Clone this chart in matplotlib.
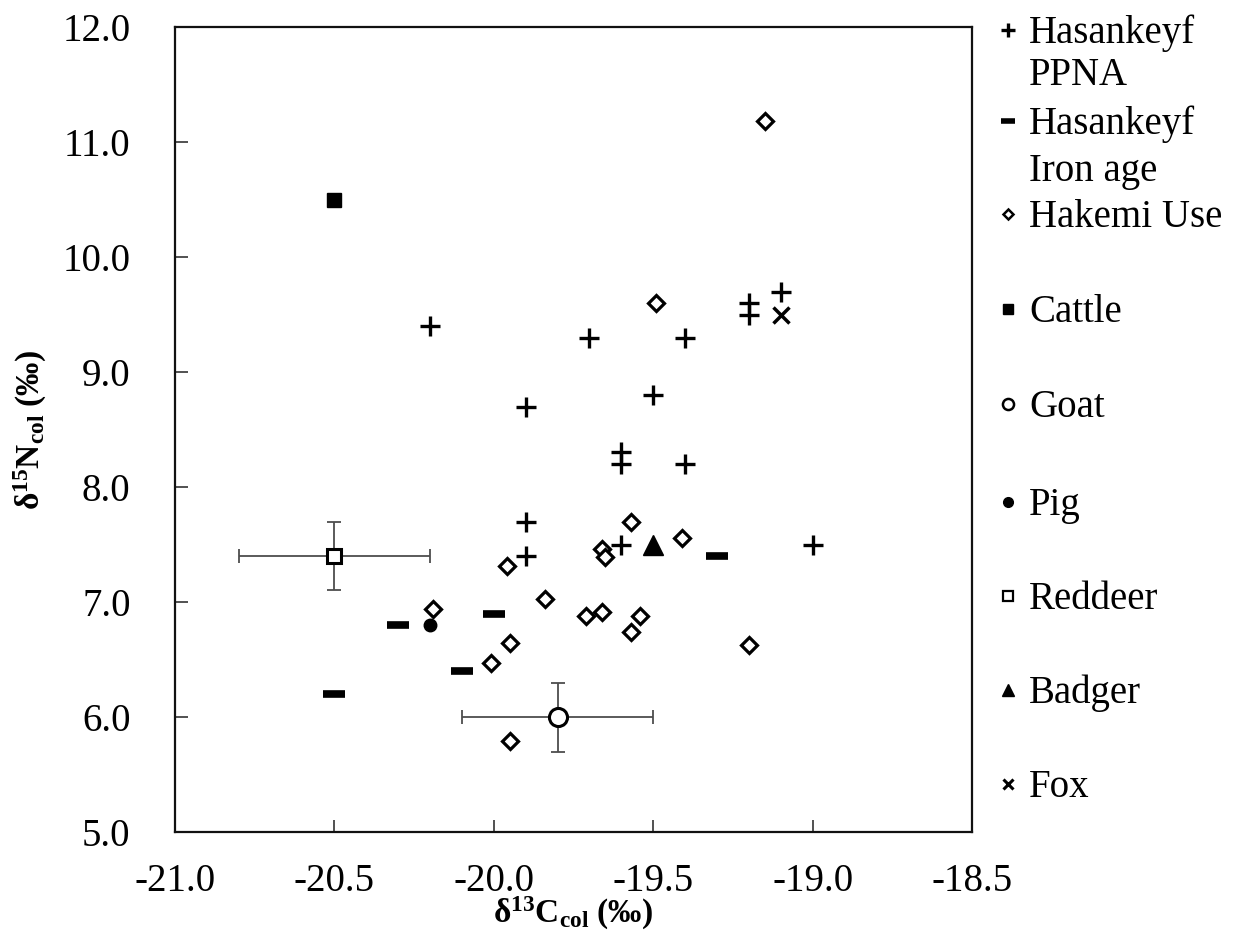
import matplotlib
matplotlib.use("Agg")
import matplotlib.pyplot as plt
from matplotlib.lines import Line2D
from matplotlib.ticker import FormatStrFormatter

plt.rcParams['font.family'] = ['Liberation Serif', 'DejaVu Serif']
plt.rcParams['mathtext.fontset'] = 'custom'
plt.rcParams['mathtext.rm'] = 'Liberation Serif'
plt.rcParams['mathtext.bf'] = 'Liberation Serif:bold'
plt.rcParams['mathtext.it'] = 'Liberation Serif:italic'
plt.rcParams['axes.unicode_minus'] = False

# d13C / d15N collagen values per group
ppna_c = [-20.2, -19.7, -19.4, -19.9, -19.5, -19.6, -19.6, -19.4, -19.9, -19.9, -19.6, -19.0, -19.2, -19.2, -19.1]
ppna_n = [9.4, 9.3, 9.3, 8.7, 8.8, 8.3, 8.2, 8.2, 7.7, 7.4, 7.5, 7.5, 9.6, 9.5, 9.7]

iron_c = [-20.5, -20.3, -20.1, -20.0, -19.3]
iron_n = [6.2, 6.8, 6.4, 6.9, 7.4]

hakemi_c = [-19.15, -19.49, -19.96, -19.57, -19.66, -19.65, -19.41, -20.19, -19.84,
            -19.71, -19.66, -19.54, -19.57, -19.20, -19.95, -20.01, -19.95]
hakemi_n = [11.18, 9.60, 7.31, 7.70, 7.46, 7.39, 7.56, 6.94, 7.03,
            6.88, 6.91, 6.88, 6.74, 6.63, 6.64, 6.47, 5.79]

cattle_c, cattle_n = [-20.5], [10.5]
goat_c, goat_n = [-19.8], [6.0]
goat_cerr, goat_nerr = [0.3], [0.3]
pig_c, pig_n = [-20.2], [6.8]
deer_c, deer_n = [-20.5], [7.4]
deer_cerr, deer_nerr = [0.3], [0.3]
badger_c, badger_n = [-19.5], [7.5]
fox_c, fox_n = [-19.1], [9.5]

legend_labels = [["Hasankeyf", "PPNA"], ["Hasankeyf", "Iron age"], ["Hakemi Use"], ["Cattle"],
                 ["Goat"], ["Pig"], ["Reddeer"], ["Badger"], ["Fox"]]

W, H = 1244, 942
fig = plt.figure(figsize=(W / 100, H / 100), dpi=100)
ax = fig.add_axes([175 / W, (H - 832) / H, 797 / W, 805 / H])

err_kw = dict(ecolor='#4d4d4d', elinewidth=1.3, capsize=5, capthick=1.3, zorder=2)
ax.errorbar(deer_c, deer_n, xerr=deer_cerr, yerr=deer_nerr, fmt='none', **err_kw)
ax.errorbar(goat_c, goat_n, xerr=goat_cerr, yerr=goat_nerr, fmt='none', **err_kw)

ax.plot(ppna_c, ppna_n, ls='none', marker='+', ms=14, mew=2.4, color='black', zorder=3)
ax.plot(iron_c, iron_n, ls='none', marker='_', ms=16, mew=5.5, color='black', zorder=3)
ax.plot(hakemi_c, hakemi_n, ls='none', marker='D', ms=8, mew=2.3, mfc='white', mec='black', zorder=3)
ax.plot(cattle_c, cattle_n, ls='none', marker='s', ms=10, color='black', zorder=3)
ax.plot(goat_c, goat_n, ls='none', marker='o', ms=13, mew=2.2, mfc='white', mec='black', zorder=3)
ax.plot(pig_c, pig_n, ls='none', marker='o', ms=9, color='black', zorder=3)
ax.plot(deer_c, deer_n, ls='none', marker='s', ms=10, mew=2.2, mfc='white', mec='black', zorder=3)
ax.plot(badger_c, badger_n, ls='none', marker='^', ms=14, color='black', zorder=3)
ax.plot(fox_c, fox_n, ls='none', marker='x', ms=11, mew=2.5, color='black', zorder=3)

ax.set_xlim(-21.0, -18.5)
ax.set_ylim(5.0, 12.0)
ax.set_xticks([-21.0, -20.5, -20.0, -19.5, -19.0, -18.5])
ax.set_yticks([5.0, 6.0, 7.0, 8.0, 9.0, 10.0, 11.0, 12.0])
ax.xaxis.set_major_formatter(FormatStrFormatter('%.1f'))
ax.yaxis.set_major_formatter(FormatStrFormatter('%.1f'))
ax.tick_params(axis='both', direction='in', length=9, width=1.2, color='#333333', labelsize=28)
ax.tick_params(axis='x', pad=22)
ax.tick_params(axis='y', pad=32)
for s in ax.spines.values():
    s.set_linewidth(1.6)
    s.set_color('#111111')

ax.set_xlabel(r'$\mathbf{δ^{13}C_{col}}$ (‰)', fontsize=24, fontweight='bold')
ax.set_ylabel(r'$\mathbf{δ^{15}N_{col}}$ (‰)', fontsize=24, fontweight='bold')
ax.xaxis.set_label_coords(0.5, -0.078)
ax.yaxis.set_label_coords(-0.158, 0.5)

# legend on the right, one marker per entry next to the first text line
leg_markers = [
    dict(marker='+', ms=10, mew=2.4, color='black'),
    dict(marker='_', ms=10, mew=4, color='black'),
    dict(marker='D', ms=5, mew=1.8, mfc='white', mec='black'),
    dict(marker='s', ms=7, color='black'),
    dict(marker='o', ms=8, mew=1.8, mfc='white', mec='black'),
    dict(marker='o', ms=7, color='black'),
    dict(marker='s', ms=7, mew=1.6, mfc='white', mec='black'),
    dict(marker='^', ms=9, color='black'),
    dict(marker='x', ms=7, mew=2.2, color='black'),
]
line_ys = [[30, 72], [121, 168], [214], [309], [404], [502], [596], [690], [784]]
for labels, ys, mk in zip(legend_labels, line_ys, leg_markers):
    fig.add_artist(Line2D([1008 / W], [1 - ys[0] / H], ls='none', **mk))
    for txt, y in zip(labels, ys):
        fig.text(1029 / W, 1 - (y + 13) / H, txt, fontsize=28, ha='left', va='baseline')

fig.savefig('out.png', dpi=100)
